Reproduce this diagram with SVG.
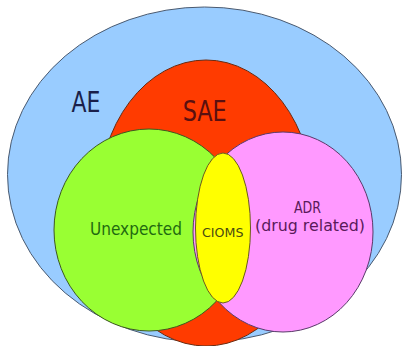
<svg xmlns="http://www.w3.org/2000/svg" width="404" height="346" viewBox="0 0 404 346">
<style>
.sh{stroke-width:1}
text{font-family:"DejaVu Sans","Liberation Sans",sans-serif}
.adr{font-size:16px;fill:#5a1a5a}
</style>
<rect width="404" height="346" fill="#ffffff"/>
<g id="ae"><ellipse class="sh" cx="204.5" cy="174.5" rx="197" ry="167.5" fill="#99ccff" stroke="#4a5a70"/>
<text x="71.5" y="111.7" font-size="27.5" fill="#1a1f4a" textLength="29" lengthAdjust="spacingAndGlyphs">AE</text></g>
<g id="sae"><ellipse class="sh" cx="206" cy="203" rx="108" ry="143" fill="#ff3b00" stroke="#6a2a10"/>
<text x="182.7" y="120.7" font-size="28" fill="#5a1010" textLength="44" lengthAdjust="spacingAndGlyphs">SAE</text></g>
<g id="unexpected"><ellipse class="sh" cx="149" cy="230" rx="95" ry="101" fill="#99ff33" stroke="#3d5a20"/>
<text x="90" y="235" font-size="17" fill="#1f6a10" textLength="92" lengthAdjust="spacingAndGlyphs">Unexpected</text></g>
<g id="adr"><ellipse class="sh" cx="283" cy="232" rx="90" ry="100" fill="#ff99ff" stroke="#5a3a6a"/>
<text class="adr" x="294" y="212.5" textLength="27" lengthAdjust="spacingAndGlyphs">ADR</text>
<text class="adr" x="255" y="231" textLength="110" lengthAdjust="spacingAndGlyphs">(drug related)</text></g>
<g id="cioms"><ellipse class="sh" cx="223" cy="228" rx="27.5" ry="75" fill="#ffff00" stroke="#6a5a20"/>
<text x="202" y="236.7" font-size="13" fill="#4a4a10" textLength="41.5" lengthAdjust="spacingAndGlyphs">CIOMS</text></g>
<g id="connectors"></g>
</svg>
